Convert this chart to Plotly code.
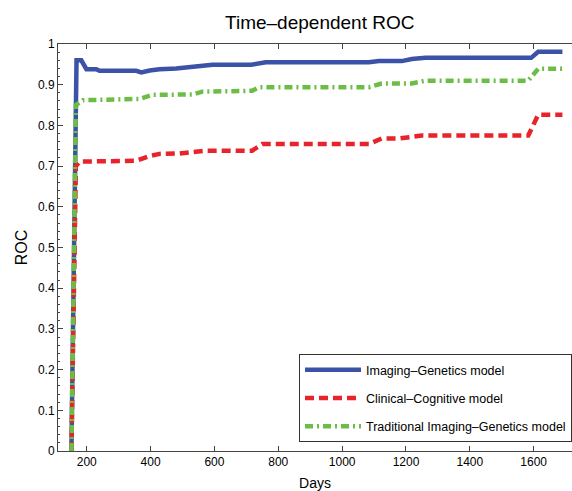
import plotly.graph_objects as go

# Data
days_ig = [152, 166, 168, 183, 199, 230, 240, 355, 371, 397, 428, 480, 531, 553, 594,
           715, 761, 1084, 1115, 1187, 1218, 1261, 1592, 1614, 1690]
roc_ig = [0, 0.957, 0.96, 0.96, 0.938, 0.938, 0.934, 0.934, 0.930, 0.935, 0.938, 0.940,
          0.943, 0.946, 0.949, 0.949, 0.955, 0.955, 0.958, 0.958, 0.963, 0.966, 0.966,
          0.981, 0.981]

days_cc = [152, 166, 178, 355, 397, 428, 490, 574, 718, 750, 1084, 1124, 1180, 1210,
           1249, 1583, 1614, 1690]
roc_cc = [0, 0.70, 0.711, 0.713, 0.725, 0.730, 0.731, 0.738, 0.738, 0.754, 0.754, 0.768,
          0.768, 0.771, 0.775, 0.775, 0.826, 0.826]

days_tig = [152, 166, 188, 365, 406, 531, 562, 718, 740, 1084, 1124, 1218, 1261, 1583,
            1614, 1690]
roc_tig = [0, 0.85, 0.862, 0.865, 0.875, 0.876, 0.883, 0.885, 0.894, 0.894, 0.903, 0.903,
           0.910, 0.910, 0.939, 0.939]

x_ticks = [200, 400, 600, 800, 1000, 1200, 1400, 1600]
y_ticks = [0, 0.1, 0.2, 0.3, 0.4, 0.5, 0.6, 0.7, 0.8, 0.9, 1]

FONT = "Liberation Sans, Arial, sans-serif"

fig = go.Figure()
fig.add_trace(go.Scatter(x=days_ig, y=roc_ig, mode="lines",
                         name="Imaging\u2013Genetics model", legendgroup="a",
                         line=dict(color="#3b53a6", width=4.5)))
fig.add_trace(go.Scatter(x=days_cc, y=roc_cc, mode="lines",
                         name="Clinical\u2013Cognitive model", legendgroup="b",
                         line=dict(color="#e8232b", width=4.5, dash="9px,5px")))
fig.add_trace(go.Scatter(x=days_tig, y=roc_tig, mode="lines",
                         name="Traditional Imaging\u2013Genetics model", legendgroup="c",
                         line=dict(color="#6cbd45", width=4.5, dash="8px,4px,2px,4px")))

fig.update_layout(
    width=572, height=491,
    margin=dict(l=58, r=0, t=44, b=40),
    paper_bgcolor="white", plot_bgcolor="white",
    font=dict(family=FONT, size=12, color="black"),
    title=dict(text="Time\u2013dependent ROC", x=0.559, xanchor="center",
               y=0.955, yanchor="middle", font=dict(size=19)),
    showlegend=True,
    legend=dict(x=0.469, y=0.238, xanchor="left", yanchor="top",
                bgcolor="white", bordercolor="#333333", borderwidth=1,
                font=dict(size=12.5), itemwidth=56, tracegroupgap=9,
                traceorder="grouped"),
    xaxis=dict(range=[110, 1720], tickvals=x_ticks, ticks="inside", ticklen=5,
               showline=True, linecolor="#444444", linewidth=1, mirror="ticks",
               showgrid=False, zeroline=False,
               title=dict(text="Days", font=dict(size=14), standoff=9)),
    yaxis=dict(range=[0, 1], tickvals=y_ticks, ticks="inside", ticklen=5,
               showline=True, linecolor="#444444", linewidth=1,
               showgrid=False, zeroline=False,
               minor=dict(ticks="inside", ticklen=2, dtick=0.02, tickcolor="#444444"),
               title=dict(text="ROC", font=dict(size=16), standoff=6)),
)

fig.write_html("out.html", config={"displayModeBar": False},
               post_script="document.body.style.margin='0';document.body.style.overflow='hidden';")
